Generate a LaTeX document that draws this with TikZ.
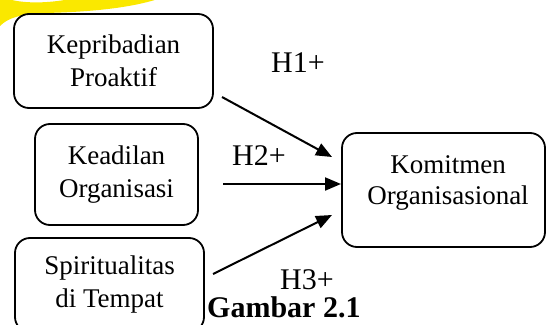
\documentclass[tikz,border=0pt]{standalone}
\usepackage{fontspec}
\setmainfont{Liberation Serif}
\usetikzlibrary{arrows.meta}
\definecolor{ylw}{RGB}{250,232,0}
\begin{document}
\begin{tikzpicture}[x=1pt,y=-1pt,
  box/.style={draw, line width=1.8pt, rounded corners=15pt, align=center,
    font=\fontsize{27}{33}\selectfont, inner sep=0pt},
  boxtext/.style={align=center, font=\fontsize{27}{31}\selectfont, inner sep=0pt},
  lbl/.style={font=\fontsize{30}{34}\selectfont, inner sep=0pt, anchor=base west},
  arr/.style={line width=2pt, -{Triangle[length=16pt,width=13pt]}}]
\useasboundingbox (0,0) rectangle (546,324);
\clip (0,0) rectangle (546,324);
% yellow watermark arc
\fill[ylw] (0,-1) -- (0,26) .. controls (8,18) and (20,14) .. (45,13)
  .. controls (90,12) and (130,8) .. (158,-1) -- (70,-1)
  .. controls (50,3) and (25,4) .. (8,-1) -- cycle;
% boxes
\node[box, minimum width=199pt, minimum height=94pt] (b1) at (113.5,61) {Kepribadian\\Proaktif};
\node[box, minimum width=163pt, minimum height=101pt] (b2) at (116.5,174.5) {Keadilan\\Organisasi};
\node[box, minimum width=189pt, minimum height=94pt] (b3) at (109.5,285) {Spiritualitas\\di Tempat};
\node[box, minimum width=203pt, minimum height=114pt] (b4) at (443.5,190) {};
\node[boxtext] (b4t) at (448,182.5) {Komitmen\\Organisasional};
% connectors
\coordinate (s1) at (222,97);  \coordinate (e1) at (332,157);
\coordinate (s2) at (223,184); \coordinate (e2) at (341,184);
\coordinate (s3) at (213,274); \coordinate (e3) at (332,215);
\draw[arr] (s1) -- (e1);
\draw[arr] (s2) -- (e2);
\draw[arr] (s3) -- (e3);
% labels
\node[lbl] (h1) at (271,72) {H1+};
\node[lbl] (h2) at (232,165) {H2+};
\node[lbl] (h3) at (280,289) {H3+};
\node[lbl, font=\fontsize{30}{34}\selectfont\bfseries] (cap) at (207,317) {Gambar 2.1};
\end{tikzpicture}
\end{document}
